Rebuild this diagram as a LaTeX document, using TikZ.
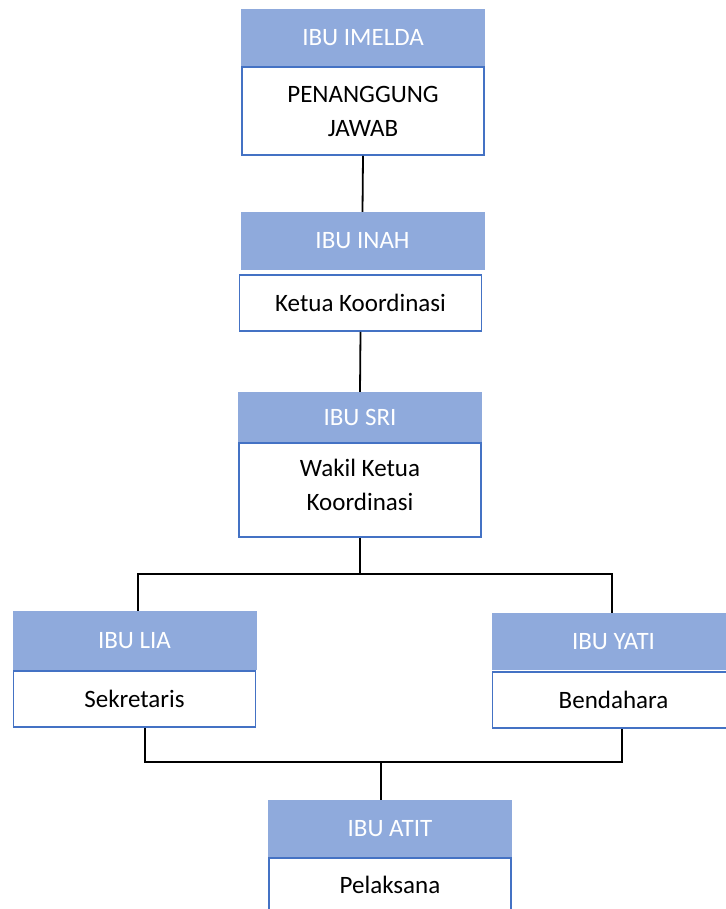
\documentclass[tikz,border=0pt]{standalone}
\usepackage{fontspec}
\setmainfont{Carlito}
\definecolor{headblue}{HTML}{8FAADC}
\definecolor{lineblue}{HTML}{4472C4}
\tikzset{
 head/.style={fill=headblue,text=white,minimum width=244pt,inner sep=0pt,font=\fontsize{25}{34}\selectfont},
 job/.style={draw=lineblue,line width=1.8pt,fill=white,minimum width=242pt,inner sep=0pt,align=center,font=\fontsize{25}{34}\selectfont},
 link/.style={line width=1.8pt}
}
\begin{document}
\begin{tikzpicture}[x=1pt,y=-1pt]
\useasboundingbox(0,0) rectangle (725,909);
%boxes
\node[head,minimum height=57pt](imelda)at(363,37.5){IBU IMELDA};
\node[job,minimum height=88pt](imeldaJob)at(363,111){PENANGGUNG\\JAWAB};
\node[head,minimum height=58pt](inah)at(362.5,241){IBU INAH};
\node[job,minimum height=56pt](inahJob)at(360.5,303){Ketua Koordinasi};
\node[head,minimum height=50pt](sri)at(360,417){IBU SRI};
\node[job,minimum height=94pt,text depth=10pt](sriJob)at(360,490){Wakil Ketua\\Koordinasi};
\node[head,minimum height=59pt](lia)at(134.5,640.5){IBU LIA};
\node[job,minimum height=56pt](liaJob)at(134.5,699){Sekretaris};
\node[head,minimum height=57pt](yati)at(613.5,641.5){IBU YATI};
\node[job,minimum height=56pt](yatiJob)at(613.5,700){Bendahara};
\node[head,minimum height=58pt](atit)at(390,829){IBU ATIT};
\node[job,minimum height=54pt](atitJob)at(390,885){Pelaksana};
%lines
\draw[link](imeldaJob.south)--(inah.north);
\draw[link](inahJob.south)--(sri.north);
\draw[link](sriJob.south)--++(0,36)coordinate(split);
\draw[link]([xshift=3.5pt]lia.north)|-(split)-|([xshift=-1.5pt]yati.north);
\coordinate(merge)at(381,762);
\draw[link]([xshift=10.5pt]liaJob.south)|-(merge)-|([xshift=8.5pt]yatiJob.south);
\draw[link](merge)--([xshift=-9pt]atit.north);
\end{tikzpicture}
\end{document}
